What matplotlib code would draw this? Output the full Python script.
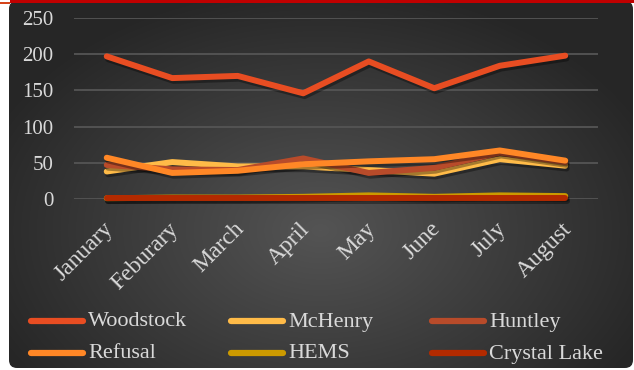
import numpy as np
import matplotlib
matplotlib.use("Agg")
import matplotlib.pyplot as plt
from matplotlib.patches import FancyBboxPatch, Rectangle
from matplotlib.lines import Line2D
import matplotlib.patheffects as pe
import matplotlib.transforms as mtrans

plt.rcParams['font.family'] = ['Liberation Serif', 'DejaVu Serif']

months = ["January", "Feburary", "March", "April", "May", "June", "July", "August"]
woodstock = [197, 167, 170, 146, 190, 153, 184, 198]
mchenry = [38, 51, 45, 45, 40, 35, 55, 46]
huntley = [47, 41, 40, 56, 36, 43, 64, 51]
refusal = [57, 36, 39, 48, 52, 55, 67, 53]
hems = [1, 2, 2, 3, 5, 3, 5, 4]
crystal_lake = [1, 1, 1, 1, 1, 1, 1, 1]

names = ["Woodstock", "McHenry", "Huntley", "Refusal", "HEMS", "Crystal Lake"]
series = [woodstock, mchenry, huntley, refusal, hems, crystal_lake]
colors = ["#E84D22", "#FFBB48", "#B84B2A", "#FF8726", "#CC9A00", "#B32A00"]
yticks = [0, 50, 100, 150, 200, 250]

W, H = 634, 370
fig = plt.figure(figsize=(W / 100, H / 100), dpi=100)
fig.patch.set_facecolor("white")

# background panel with radial gradient
bg = fig.add_axes([0, 0, 1, 1])
bg.set_xlim(0, W)
bg.set_ylim(H, 0)
bg.axis("off")
yy, xx = np.mgrid[0:H, 0:W]
r = np.sqrt(((xx - 320) / 380.0) ** 2 + ((yy - 230) / 260.0) ** 2)
shade = np.clip(0.33 - 0.19 * r, 0.15, 0.34)
img = np.dstack([shade, shade, shade])
panel = FancyBboxPatch((9, 1), 624, 367, boxstyle="round,pad=0,rounding_size=8",
                       facecolor="none", edgecolor="none", transform=bg.transData)
bg.add_patch(panel)
im = bg.imshow(img, extent=(0, W, H, 0), aspect="auto", zorder=1)
im.set_clip_path(panel)
bg.add_patch(Rectangle((10, 0), W - 10, 2.5, facecolor="#C00000", edgecolor="none", zorder=3))
bg.add_patch(Rectangle((0, 2), 10, 2, facecolor="#D5441A", edgecolor="none", zorder=3))

# main chart
ax = fig.add_axes([74 / W, 1 - 199 / H, (598 - 74) / W, (199 - 18) / H])
ax.patch.set_alpha(0)
x = np.arange(len(months))
for vals, name, c in zip(series, names, colors):
    ax.plot(x, vals, color=c, lw=4.3, solid_capstyle="round", solid_joinstyle="round",
            clip_on=False, zorder=3,
            path_effects=[pe.SimpleLineShadow(offset=(1, -2), alpha=0.35), pe.Normal()])

ax.set_xlim(-0.5, len(months) - 0.5)
ax.set_ylim(0, 250)
ax.set_yticks(yticks)
for t in yticks:
    ax.axhline(t, color="#555555", lw=1.3, zorder=1)
ax.set_xticks(x)
ax.set_xticklabels(months, rotation=45, ha="right", va="top", rotation_mode="anchor")
ax.tick_params(axis="both", length=0, colors="#D9D9D9")
ax.tick_params(axis="y", pad=15, labelsize=15)
ax.tick_params(axis="x", pad=14, labelsize=17)
shift = mtrans.ScaledTranslation(-4 / 100, 0, fig.dpi_scale_trans)
for lbl in ax.get_xticklabels():
    lbl.set_transform(lbl.get_transform() + shift)
for s in ax.spines.values():
    s.set_visible(False)

# legend drawn by hand in 3 columns
col_x = [28, 228, 429]
row_y = [321, 353]
for i, (name, c) in enumerate(zip(names, colors)):
    cx = col_x[i % 3]
    cy = row_y[i // 3]
    bg.add_line(Line2D([cx + 3, cx + 55], [cy, cy], color=c, lw=4.5,
                       solid_capstyle="round", zorder=4))
    bg.text(cx + 60, cy + 1, name, color="#D9D9D9", fontsize=16,
            va="center", ha="left", zorder=4)

fig.savefig("out.png", dpi=100, facecolor="white")
